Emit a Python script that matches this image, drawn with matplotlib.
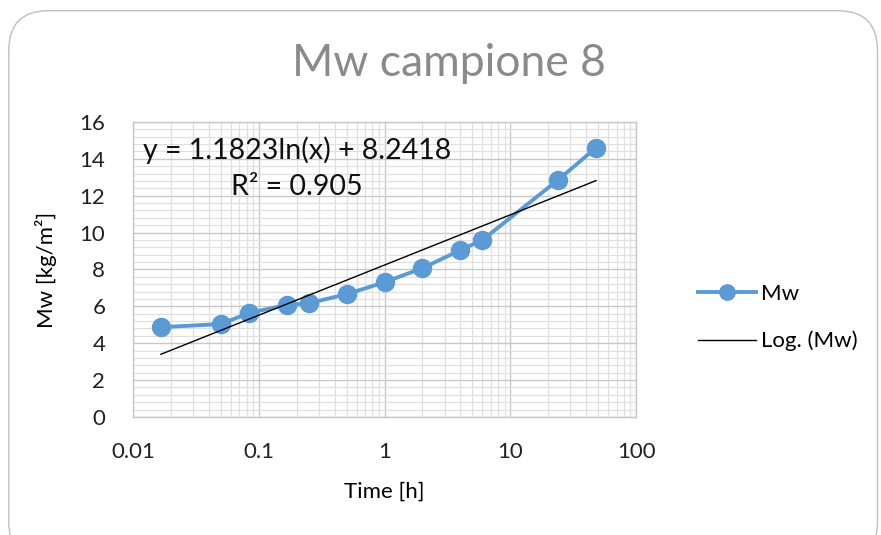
"""
Mw over time for sample 8, with logarithmic trendline
"""

import numpy as np
import matplotlib.pyplot as plt
from matplotlib.patches import FancyBboxPatch
from matplotlib.ticker import LogLocator, MultipleLocator, FuncFormatter

plt.rcParams["font.family"] = ["Lato", "DejaVu Sans"]

# time in hours and measured Mw in kg/m2
time_h = [1 / 60, 0.05, 5 / 60, 10 / 60, 0.25, 0.5, 1, 2, 4, 6, 24, 48]
mw = [4.87, 5.04, 5.64, 6.07, 6.17, 6.66, 7.31, 8.07, 9.05, 9.6, 12.86, 14.6]

# trendline coefficients y = a ln(x) + b
fit_a = 1.1823
fit_b = 8.2418
fit_r2 = 0.905

x_ticks = [0.01, 0.1, 1, 10, 100]
y_ticks = [0, 2, 4, 6, 8, 10, 12, 14, 16]

blue = "#5b9bd5"

fig = plt.figure(figsize=(8.81, 5.35), dpi=100)

# rounded chart frame, kept behind the axes
frame = FancyBboxPatch((0.010, -0.05), 0.986, 1.03, boxstyle="round,pad=0,rounding_size=0.045",
                       transform=fig.transFigure, facecolor="white", edgecolor="#bfbfbf",
                       linewidth=1.0, mutation_aspect=881 / 535, zorder=-5)
fig.patches.append(frame)

ax = fig.add_axes([0.151, 0.2206, 0.571, 0.5514])
ax.set_zorder(2)

ax.set_xscale("log")
ax.set_xlim(0.01, 100)
ax.set_ylim(0, 16)

ax.xaxis.set_major_locator(LogLocator(base=10, numticks=10))
ax.xaxis.set_minor_locator(LogLocator(base=10, subs=np.arange(2, 10), numticks=10))
ax.xaxis.set_major_formatter(FuncFormatter(lambda v, p: "{:g}".format(v)))
ax.set_xticks(x_ticks)
ax.set_yticks(y_ticks)
ax.yaxis.set_minor_locator(MultipleLocator(0.4))

ax.grid(which="major", color="#c8c8c8", linewidth=1.0)
ax.grid(which="minor", color="#e0e0e0", linewidth=0.9)
ax.set_axisbelow(True)

for side in ax.spines.values():
    side.set_color("#c8c8c8")
    side.set_linewidth(1.0)

ax.tick_params(which="both", length=0)
ax.tick_params(axis="x", labelsize=16, pad=18, colors="#222222")
ax.tick_params(axis="y", labelsize=16, pad=20, colors="#222222")

ax.plot(time_h, mw, color=blue, linewidth=2.8, marker="o", markersize=13, label="Mw", zorder=3)

x_fit = np.array([min(time_h), max(time_h)])
x_line = np.logspace(np.log10(x_fit[0]), np.log10(x_fit[1]), 100)
ax.plot(x_line, fit_a * np.log(x_line) + fit_b, color="black", linewidth=1.0, label="Log. (Mw)", zorder=4)

ax.text(0.2, 13.5, "y = {:.4f}ln(x) + {:.4f}\nR² = {:.3f}".format(fit_a, fit_b, fit_r2),
        fontsize=20.5, ha="center", va="center", linespacing=1.45, color="#111111")

ax.set_xlabel("Time [h]", fontsize=16, labelpad=14)
ax.set_ylabel("Mw [kg/m²]", fontsize=16, labelpad=16)

fig.text(0.51, 0.882, "Mw campione 8", fontsize=32, color="#8a8a8a", ha="center", va="center")

ax.legend(loc="center left", bbox_to_anchor=(1.084, 0.336), frameon=False, fontsize=16,
          handlelength=2.6, handletextpad=0.2, labelspacing=1.2, markerscale=0.85)

fig.savefig("out.png", dpi=100)
plt.close(fig)
